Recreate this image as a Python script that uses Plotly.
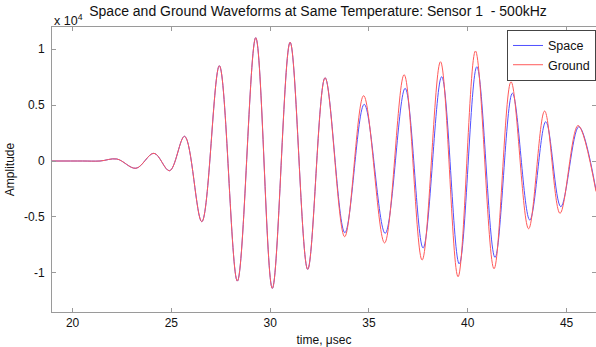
import plotly.graph_objects as go

# ---- data (extrema of the waveforms) ----
t_ground = [18.96, 20.5, 21.39, 22.24, 23.21, 24.12, 24.91, 25.67, 26.54, 27.43,
            28.34, 29.27, 30.11, 31.01, 31.90, 32.78, 33.77, 34.73, 35.79, 36.78,
            37.69, 38.62, 39.51, 40.39, 41.33, 42.19, 43.08, 43.89, 44.67, 45.58, 46.49]
a_ground = [0, 0, 0, 180, -650, 690, -870, 2210, -5430, 8520,
            -10740, 11030, -11390, 10620, -9690, 7450, -6770, 5840, -7330, 7720,
            -8860, 8880, -10350, 9840, -9640, 7090, -6060, 4470, -4680, 3180, -2730]

t_space = [18.96, 20.5, 21.39, 22.24, 23.21, 24.12, 24.91, 25.67, 26.54, 27.43,
           28.34, 29.27, 30.11, 31.01, 31.90, 32.78, 33.78, 34.76, 35.82, 36.83,
           37.74, 38.68, 39.57, 40.46, 41.38, 42.26, 43.14, 43.95, 44.71, 45.62, 46.49]
a_space = [0, 0, 0, 180, -650, 690, -870, 2210, -5430, 8520,
           -10740, 11030, -11390, 10620, -9690, 7450, -6410, 5070, -6470, 6500,
           -7780, 7540, -9210, 8430, -8630, 6060, -5280, 3520, -4090, 3070, -2600]

y_tickvals = [-10000, -5000, 0, 5000, 10000]
y_ticktext = ["-1", "-0.5", "0", "0.5", "1"]
x_tickvals = [20, 25, 30, 35, 40, 45]

FONT = "Liberation Sans, Arial, Helvetica, sans-serif"
AXC = "#9a9a9a"

fig = go.Figure()
fig.add_trace(go.Scatter(x=t_space, y=a_space, name="Space", mode="lines",
                         line=dict(color="rgb(80,80,255)", width=1, shape="spline", smoothing=1.0)))
fig.add_trace(go.Scatter(x=t_ground, y=a_ground, name="Ground", mode="lines",
                         line=dict(color="rgb(255,90,90)", width=1, shape="spline", smoothing=1.0)))

fig.update_layout(
    width=596, height=347,
    margin=dict(l=52, r=0, t=27, b=35),
    paper_bgcolor="white", plot_bgcolor="white",
    font=dict(family=FONT, size=12, color="#111"),
    title=dict(text="Space and Ground Waveforms at Same Temperature: Sensor 1  - 500kHz",
               x=318 / 596, xref="container", xanchor="center",
               y=1 - 11 / 347, yref="container", yanchor="middle",
               font=dict(family=FONT, size=14, color="#111")),
    xaxis=dict(range=[18.96, 46.49], tickvals=x_tickvals, ticks="inside", ticklen=4,
               tickcolor=AXC, showline=True, linecolor=AXC, linewidth=1, mirror="ticks",
               showgrid=False, zeroline=False, tickfont=dict(size=12),
               title=dict(text="time, \u03bcsec", standoff=6, font=dict(size=12))),
    yaxis=dict(range=[-13506, 11986], tickvals=y_tickvals, ticktext=y_ticktext,
               ticks="inside", ticklen=4, tickcolor=AXC, showline=True, linecolor=AXC,
               linewidth=1, mirror="ticks", showgrid=False, zeroline=False,
               ticklabelstandoff=4, tickfont=dict(size=12),
               title=dict(text="Amplitude", standoff=6, font=dict(size=12))),
    legend=dict(x=1, xanchor="right", y=0.99, yanchor="top", bgcolor="white",
                bordercolor="#444", borderwidth=1, font=dict(size=12.5, color="#111"),
                itemwidth=30, tracegroupgap=0),
    showlegend=True,
    annotations=[dict(text="x 10<sup>4</sup>", x=(52 - 52) / (596 - 52), y=1 + (27 - 20) / 285,
                      xref="paper", yref="paper",
                      showarrow=False, xanchor="left", yanchor="middle",
                      font=dict(size=12.5, color="#111"))],
)

fig.write_html("out.html")
